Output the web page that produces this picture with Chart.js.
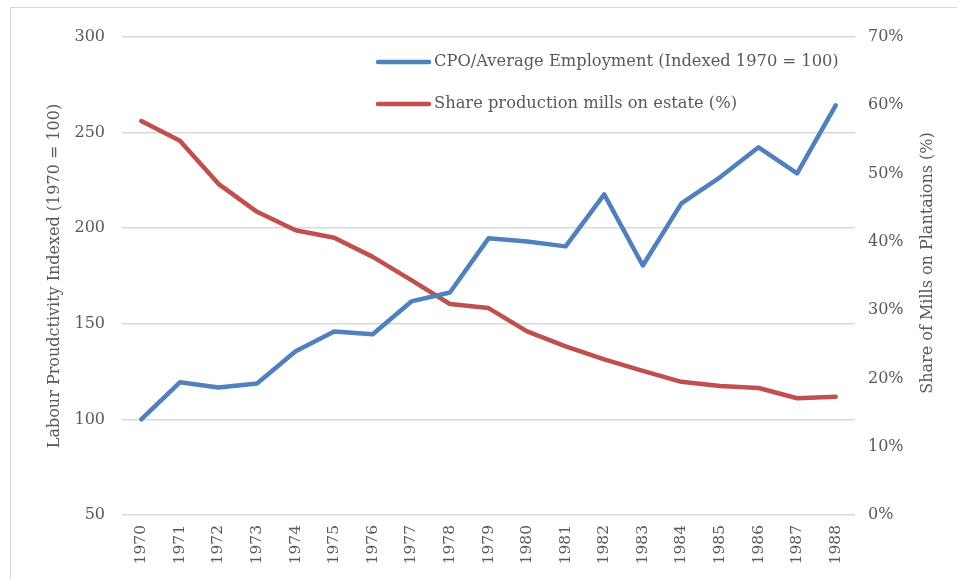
<!DOCTYPE html>
<html>
<head>
<meta charset="utf-8">
<script src="https://cdn.jsdelivr.net/npm/chart.js@4"></script>
<style>
  html, body { margin: 0; padding: 0; background: #fff; }
  #wrap { position: relative; width: 957px; height: 579px; }
  #frame { position: absolute; left: 10px; top: 7px; right: 0; bottom: 0;
           border-left: 1px solid #d9d9d9; border-top: 1px solid #d9d9d9; }
  canvas { position: absolute; left: 0; top: 0; }
</style>
</head>
<body>
<div id="wrap">
  <div id="frame"></div>
  <canvas id="chart" width="957" height="579"></canvas>
</div>
<script>
(function () {
  'use strict';

  // ── 데이터 ────────────────────────────────────────────────────────────
  const years = ['1970', '1971', '1972', '1973', '1974', '1975', '1976', '1977', '1978', '1979',
                 '1980', '1981', '1982', '1983', '1984', '1985', '1986', '1987', '1988'];

  // CPO / 평균 고용 (1970 = 100)
  const productivity = [100, 119.4, 116.7, 118.8, 135.6, 146, 144.5, 161.7, 166.4, 194.7,
                        193, 190.5, 217.7, 180.5, 213, 226.6, 242.3, 228.7, 264.2];

  // 농장 내 공장 생산 비중 (%)
  const millShare = [57.7, 54.8, 48.5, 44.4, 41.7, 40.6, 37.8, 34.4, 30.9, 30.3,
                     26.9, 24.7, 22.8, 21.1, 19.5, 18.9, 18.6, 17.1, 17.3];

  const labelProd = 'CPO/Average Employment (Indexed 1970 = 100)';
  const labelShare = 'Share production mills on estate (%)';
  const titleRight = 'Share of Mills on Plantaions (%)';

  const FONT = '"DejaVu Serif", "Liberation Serif", serif';
  const INK = '#595959';
  const GRID = '#d9d9d9';
  const BLUE = '#4f81bd';
  const RED = '#c0504d';

  // 차트 안쪽 범례 + 오른쪽 축 제목 (아래→위 방향)
  const extras = {
    id: 'extras',
    afterDatasetsDraw(chart) {
      const ctx = chart.ctx;
      const rows = [[labelProd, BLUE, 62], [labelShare, RED, 104]];
      ctx.save();
      ctx.font = '16.3px ' + FONT;
      ctx.textBaseline = 'middle';
      ctx.lineCap = 'round';
      rows.forEach(([text, color, y]) => {
        ctx.strokeStyle = color;
        ctx.lineWidth = 4.5;
        ctx.beginPath();
        ctx.moveTo(378, y);
        ctx.lineTo(429, y);
        ctx.stroke();
        ctx.fillStyle = INK;
        ctx.fillText(text, 434, y);
      });

      ctx.font = '16px ' + FONT;
      ctx.textAlign = 'center';
      ctx.translate(928, 263);
      ctx.rotate(-Math.PI / 2);
      ctx.fillText(titleRight, 0, 0);
      ctx.restore();
    }
  };

  new Chart(document.getElementById('chart'), {
    type: 'line',
    data: {
      labels: years,
      datasets: [
        {
          label: labelProd, data: productivity, yAxisID: 'y',
          borderColor: BLUE, borderWidth: 4.5, pointRadius: 0,
          borderCapStyle: 'round', borderJoinStyle: 'round', tension: 0, fill: false
        },
        {
          label: labelShare, data: millShare, yAxisID: 'y1',
          borderColor: RED, borderWidth: 4.5, pointRadius: 0,
          borderCapStyle: 'round', borderJoinStyle: 'round', tension: 0, fill: false
        }
      ]
    },
    options: {
      responsive: false,
      animation: false,
      layout: { padding: { top: 37, left: 0, right: 0, bottom: 0 } },
      plugins: { legend: { display: false }, tooltip: { enabled: false } },
      scales: {
        x: {
          offset: true,
          grid: { display: false, drawTicks: false },
          border: { display: false },
          ticks: {
            color: INK, font: { family: FONT, size: 15.5 },
            minRotation: 90, maxRotation: 90, padding: 10, autoSkip: false
          },
          afterFit(s) { s.height = 64; }
        },
        y: {
          position: 'left', min: 50, max: 300,
          grid: { color: GRID, lineWidth: 1.5, drawTicks: false },
          border: { display: false },
          ticks: { stepSize: 50, color: INK, font: { family: FONT, size: 16 }, padding: 17 },
          title: {
            display: true, text: 'Labour Proudctivity Indexed (1970 = 100)',
            color: INK, font: { family: FONT, size: 16 }, padding: { top: 45, bottom: 0 }
          },
          afterFit(s) { s.width = 122; }
        },
        y1: {
          position: 'right', min: 0, max: 70,
          grid: { display: false, drawTicks: false },
          border: { display: false },
          ticks: {
            stepSize: 10, color: INK, font: { family: FONT, size: 16 }, padding: 13,
            callback: (v) => v + '%'
          },
          afterFit(s) { s.width = 102; }
        }
      }
    },
    plugins: [extras]
  });
})();
</script>
</body>
</html>
